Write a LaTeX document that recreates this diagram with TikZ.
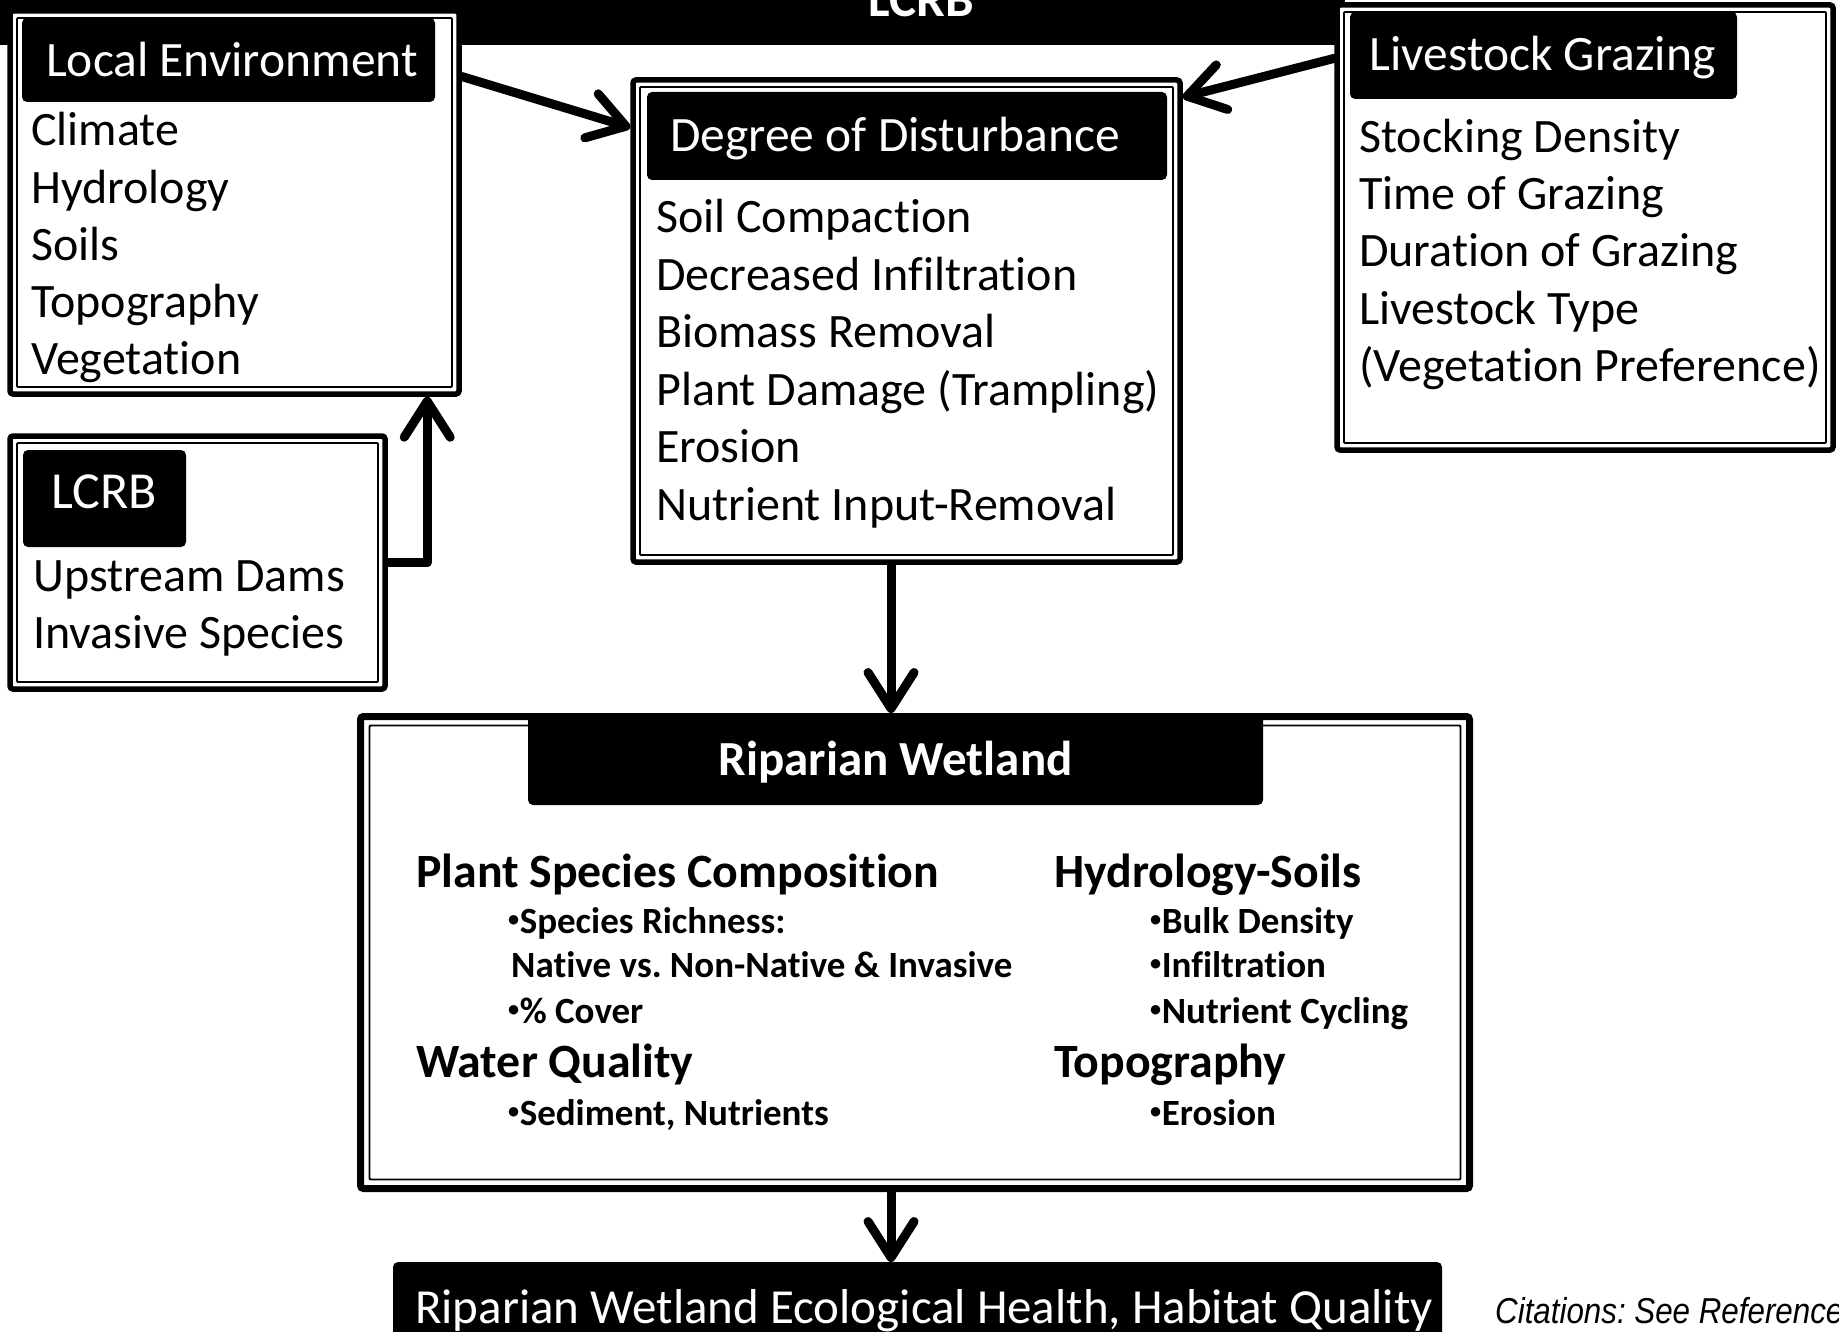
\documentclass[tikz,border=0pt]{standalone}
\usepackage{fontspec}
\setmainfont{Carlito}[Ligatures=NoCommon]
\newfontfamily\citefont{Liberation Sans}[FakeStretch=0.87]
\usetikzlibrary{arrows.meta,calc}
\newcommand\bodyfs{\fontsize{48}{57}\selectfont}
\newcommand\hfs{\fontsize{49.5}{57}\selectfont}
\newcommand\subfs{\fontsize{37}{44}\selectfont\bfseries}
\newcommand\bul{\raisebox{0.17em}{\scalebox{0.6}{•}}\kern0.5pt}
\frenchspacing
\begin{document}
\frenchspacing
\begin{tikzpicture}[x=1pt,y=-1pt,
  dbox/.style={draw, line width=5.5pt, rounded corners=3pt, fill=white, inner sep=0pt, outer sep=2.75pt},
  hdr/.style={fill=black, rounded corners=5pt, inner sep=0pt, outer sep=0pt},
  htxt/.style={text=white, inner sep=0pt, font=\hfs},
  item/.style={anchor=base west, inner sep=0pt, font=\bodyfs},
  rhead/.style={anchor=base west, inner sep=0pt, font=\fontsize{47.8}{57}\selectfont\bfseries},
  rsub/.style={anchor=base west, inner sep=0pt, font=\subfs},
  arr/.style={line width=9pt, line cap=round, line join=round, -{Straight Barb[round, length=36pt, width=46pt]}},
  innerline/.style={line width=1.8pt, rounded corners=1pt}
]
\useasboundingbox (0,0) rectangle (1839,1332);
\clip (0,0) rectangle (1839,1332);
\fill[white] (0,0) rectangle (1839,1332);

% top bar
\node[fill=black, anchor=north west, minimum width=1345pt, minimum height=105pt, inner sep=0pt] (bar) at (0,-60) {};
\node[anchor=base, text=white, inner sep=0pt, font=\fontsize{51}{60}\selectfont\bfseries] (bart) at (921,17) {LCRB};

% boxes
\node[dbox, minimum width=449pt, minimum height=383pt] (le) at (234.5,202.5) {};
\node[dbox, minimum width=547pt, minimum height=482pt] (dd) at (906.5,321) {};
\node[dbox, minimum width=496pt, minimum height=445pt] (lg) at (1585,227.5) {};
\node[dbox, minimum width=375pt, minimum height=253pt] (lc) at (197.5,562.5) {};
\node[dbox, line width=7pt, outer sep=3.5pt, minimum width=1109pt, minimum height=472pt] (rw) at (915,952.5) {};

\foreach \n in {le,dd,lg,lc}
  \draw[innerline] ([shift={(9.75,9.75)}]\n.north west) rectangle ([shift={(-9.75,-9.75)}]\n.south east);
\draw[innerline] ([shift={(12.5,12.5)}]rw.north west) rectangle ([shift={(-12.5,-12.5)}]rw.south east);

% headers
\node[hdr, minimum width=413pt, minimum height=84pt] (leh) at (228.5,60) {};
\node[hdr, minimum width=520pt, minimum height=88pt] (ddh) at (907,136) {};
\node[hdr, minimum width=387pt, minimum height=87pt] (lgh) at (1543.5,55.5) {};
\node[hdr, minimum width=163pt, minimum height=97pt] (lch) at (104.5,498.5) {};
\node[hdr, anchor=north west, minimum width=735pt, minimum height=92pt] (rwh) at (528,713) {};
\node[hdr, anchor=north west, minimum width=1049pt, minimum height=120pt] (hb) at (393,1262) {};

\node[htxt, anchor=base] (leht) at (232,77) {Local Environment};
\node[htxt, anchor=base west] (ddht) at (670,152) {Degree of Disturbance};
\node[htxt, anchor=base] (lght) at (1542.5,71) {Livestock Grazing};
\node[htxt, anchor=base, font=\fontsize{52}{60}\selectfont] (lcht) at (104,508) {LCRB};
\node[htxt, anchor=base, font=\fontsize{49}{57}\selectfont\bfseries] (rwht) at (895.5,775) {Riparian Wetland};
\node[htxt, anchor=base, font=\fontsize{49}{57}\selectfont] (hbt) at (924,1323) {Riparian Wetland Ecological Health, Habitat Quality};

% items
\foreach \t [count=\i] in {Climate,Hydrology,Soils,Topography,Vegetation}
  \node[item] (le\i) at (31,{146+57.2*(\i-1)}) {\t};
\foreach \t [count=\i] in {Soil Compaction,Decreased Infiltration,Biomass Removal,{Plant Damage (Trampling)},Erosion,Nutrient Input-Removal}
  \node[item] (dd\i) at (656,{232.5+57.6*(\i-1)}) {\t};
\foreach \t [count=\i] in {Stocking Density,Time of Grazing,Duration of Grazing,Livestock Type,{(Vegetation Preference)}}
  \node[item] (lg\i) at (1359,{153+57*(\i-1)}) {\t};
\node[item] (lc1) at (33,591) {Upstream Dams};
\node[item] (lc2) at (33,648) {Invasive Species};

% riparian wetland content
\node[rhead] (psc) at (416,887) {Plant Species Composition};
\node[rsub] (sr) at (508,933) {\bul Species Richness:};
\node[rsub] (nat) at (511,977) {Native vs. Non-Native \& Invasive};
\node[rsub] (cov) at (508,1023) {\bul\% Cover};
\node[rhead] (wq) at (416,1077) {Water Quality};
\node[rsub] (sed) at (508,1125) {\bul Sediment, Nutrients};
\node[rhead] (hs) at (1054,887) {Hydrology-Soils};
\node[rsub] (bd) at (1150,933) {\bul Bulk Density};
\node[rsub] (inf) at (1150,977) {\bul Infiltration};
\node[rsub] (nc) at (1150,1023) {\bul Nutrient Cycling};
\node[rhead] (topo) at (1054,1077) {Topography};
\node[rsub] (ero) at (1150,1125) {\bul Erosion};

\node[anchor=base west, inner sep=0pt, font=\citefont\itshape\fontsize{36}{40}\selectfont] (cit) at (1495,1323) {Citations: See References};

% connectors
\draw[arr] (le.29.6) -- (dd.145.4);
\draw[arr] (lg.146.3) -- (dd.39.6);
\draw[arr] (lc.east) -| ($(le.south west)!0.924!(le.south east)$);
\coordinate (c4) at ($(dd.south west)!0.472!(dd.south east)$);
\draw[arr] (c4) -- (c4 |- rw.north);
\draw[arr] (c4 |- rw.south) -- (c4 |- hb.north);
\end{tikzpicture}
\end{document}
